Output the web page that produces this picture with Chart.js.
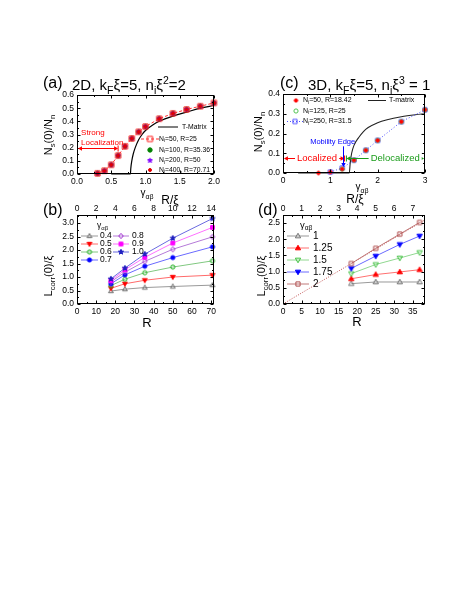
<!DOCTYPE html>
<html>
<head>
<meta charset="utf-8">
<script src="https://cdn.jsdelivr.net/npm/chart.js@4.4.1/dist/chart.umd.min.js"></script>
<style>
  body { margin: 0; background: #fff; width: 471px; height: 609px; position: relative; overflow: hidden;
         font-family: "Liberation Sans", Arial, sans-serif; }
  canvas { position: absolute; }
  .t { position: absolute; white-space: nowrap; line-height: 1; color: #000; }
  .t sub, .t sup { font-size: 70%; line-height: 0; }
  .c { transform: translate(-50%, -50%); }
  .l { transform: translate(0, -50%); }
  .r { transform: translate(-50%, -50%) rotate(-90deg); }
</style>
</head>
<body>
<canvas id="chA"></canvas>
<canvas id="chB"></canvas>
<canvas id="chC"></canvas>
<canvas id="chD"></canvas>

<div class="t l" style="left:43px;top:83px;font-size:16px">(a)</div>
<div class="t l" style="left:72px;top:84px;font-size:15px">2D, k<sub>F</sub>ξ=5, n<sub>i</sub>ξ<sup>2</sup>=2</div>
<div class="t l" style="left:280px;top:83px;font-size:16px">(c)</div>
<div class="t l" style="left:308px;top:84px;font-size:15px">3D, k<sub>F</sub>ξ=5, n<sub>i</sub>ξ<sup>3</sup> = 1</div>
<div class="t l" style="left:43px;top:210px;font-size:16px">(b)</div>
<div class="t l" style="left:258px;top:210px;font-size:16px">(d)</div>

<div class="t r" style="left:48px;top:135px;font-size:11px">N<sub>s</sub>(0)/N<sub>n</sub></div>
<div class="t c" style="left:147px;top:193px;font-size:10px">γ<sub>αβ</sub></div>
<div class="t r" style="left:258px;top:132px;font-size:11px">N<sub>s</sub>(0)/N<sub>n</sub></div>
<div class="t c" style="left:362px;top:187px;font-size:10px">γ<sub>αβ</sub></div>
<div class="t c" style="left:170px;top:200px;font-size:12px">R/ξ</div>
<div class="t r" style="left:48px;top:276px;font-size:11px">L<sub>corr</sub>(0)/ξ</div>
<div class="t c" style="left:147px;top:322px;font-size:13px">R</div>
<div class="t c" style="left:355px;top:199px;font-size:12px">R/ξ</div>
<div class="t r" style="left:261px;top:276px;font-size:11px">L<sub>corr</sub>(0)/ξ</div>
<div class="t c" style="left:357px;top:321px;font-size:13px">R</div>

<script>
  const FONT = '"Liberation Sans", Arial, sans-serif';

  // ---- (a) 2D superfluid fraction vs gamma
  const gammaA = [0.3, 0.4, 0.5, 0.6, 0.7, 0.8, 0.9, 1.0, 1.2, 1.4, 1.6, 1.8, 2.0];
  const nsA50  = [0.005, 0.025, 0.07, 0.14, 0.21, 0.27, 0.32, 0.36, 0.42, 0.46, 0.49, 0.515, 0.54];
  const nsA100 = [0.005, 0.025, 0.07, 0.14, 0.21, 0.27, 0.32, 0.36, 0.42, 0.46, 0.49, 0.515, 0.54];
  const nsA200 = [0.005, 0.025, 0.07, 0.14, 0.21, 0.27, 0.32, 0.36, 0.42, 0.46, 0.49, 0.515, 0.54];
  const nsA400 = [0.005, 0.025, 0.07, 0.14, 0.21, 0.27, 0.32, 0.36, 0.42, 0.46, 0.49, 0.515, 0.54];
  const tmatGammaA = [0.5, 0.78, 0.785, 0.8, 0.82, 0.85, 0.9, 0.95, 1.0, 1.1, 1.2, 1.4, 1.6, 1.8, 2.0];
  const tmatA      = [0, 0, 0.04, 0.1, 0.15, 0.2, 0.26, 0.3, 0.33, 0.37, 0.4, 0.44, 0.47, 0.5, 0.52];
  const ticksAx = [0, 0.5, 1.0, 1.5, 2.0];
  const ticksAy = [0, 0.1, 0.2, 0.3, 0.4, 0.5, 0.6];

  // ---- (b) 2D correlation length vs R
  const R2D = [17.68, 25, 35.36, 50, 70.71];
  const Lb04 = [0.48, 0.55, 0.61, 0.65, 0.70];
  const Lb05 = [0.58, 0.75, 0.88, 1.00, 1.07];
  const Lb06 = [0.68, 0.92, 1.16, 1.37, 1.60];
  const Lb07 = [0.75, 1.08, 1.40, 1.72, 2.12];
  const Lb08 = [0.82, 1.18, 1.58, 2.03, 2.49];
  const Lb09 = [0.87, 1.27, 1.73, 2.26, 2.84];
  const Lb10 = [0.93, 1.33, 1.85, 2.44, 3.17];
  const ticksBx = [0, 10, 20, 30, 40, 50, 60, 70];
  const ticksBtop = [0, 2, 4, 6, 8, 10, 12, 14];
  const ticksBy = [0, 0.5, 1.0, 1.5, 2.0, 2.5, 3.0];

  // ---- (c) 3D superfluid fraction vs gamma
  const gammaC50  = [0.75, 1.0, 1.25, 1.5, 1.75, 2.0, 2.5, 3.0];
  const nsC50     = [0.0, 0.005, 0.02, 0.065, 0.115, 0.165, 0.26, 0.32];
  const gammaC125 = [1.25, 1.5, 1.75, 2.0, 2.5, 3.0];
  const nsC125    = [0.02, 0.065, 0.115, 0.165, 0.26, 0.32];
  const gammaC250 = [1.0, 1.25, 1.5, 1.75, 2.0, 2.5, 3.0];
  const nsC250    = [0.005, 0.025, 0.065, 0.115, 0.165, 0.26, 0.32];
  const tmatGammaC = [0.32, 1.4, 1.42, 1.45, 1.5, 1.6, 1.7, 1.8, 2.0, 2.2, 2.5, 2.8, 3.0];
  const tmatC      = [0, 0, 0.05, 0.1, 0.14, 0.18, 0.21, 0.23, 0.255, 0.27, 0.285, 0.295, 0.3];
  const ticksCx = [0, 1, 2, 3];
  const ticksCy = [0, 0.1, 0.2, 0.3, 0.4];

  // ---- (d) 3D correlation length vs R
  const R3D = [18.42, 25, 31.5, 36.84];
  const Ld100 = [0.63, 0.68, 0.68, 0.68];
  const Ld125 = [0.78, 0.91, 0.99, 1.06];
  const Ld150 = [0.94, 1.22, 1.42, 1.59];
  const Ld175 = [1.10, 1.48, 1.84, 2.10];
  const Ld200 = [1.25, 1.72, 2.16, 2.52];
  const guideR = [0, 38.3];
  const guideL = [0, 2.6];
  const ticksDx = [0, 5, 10, 15, 20, 25, 30, 35];
  const ticksDtop = [0, 1, 2, 3, 4, 5, 6, 7];
  const ticksDy = [0, 0.5, 1.0, 1.5, 2.0, 2.5];

  const xy = (xs, ys) => xs.map((x, i) => ({ x, y: ys[i] }));

  // marker images, shared by plot points and legends
  function makeMarker(shape, color, filled, r) {
    const s = Math.ceil(2 * r + 5);
    const c = document.createElement('canvas');
    c.width = c.height = s;
    const g = c.getContext('2d');
    const x = s / 2, y = s / 2;
    g.beginPath();
    if (shape === 'square') g.rect(x - r, y - r, 2 * r, 2 * r);
    else if (shape === 'circle') g.arc(x, y, r, 0, Math.PI * 2);
    else if (shape === 'up' || shape === 'down') {
      const d = shape === 'up' ? 1 : -1;
      g.moveTo(x, y - d * r * 1.2);
      g.lineTo(x + r * 1.15, y + d * r * 0.8);
      g.lineTo(x - r * 1.15, y + d * r * 0.8);
      g.closePath();
    } else if (shape === 'diamond') {
      g.moveTo(x, y - r * 1.25); g.lineTo(x + r * 1.1, y); g.lineTo(x, y + r * 1.25); g.lineTo(x - r * 1.1, y);
      g.closePath();
    } else if (shape === 'star') {
      for (let i = 0; i < 10; i++) {
        const a = -Math.PI / 2 + i * Math.PI / 5;
        const rr = i % 2 ? r * 0.55 : r * 1.3;
        g.lineTo(x + rr * Math.cos(a), y + rr * Math.sin(a));
      }
      g.closePath();
    }
    g.lineWidth = 1;
    g.strokeStyle = color;
    g.fillStyle = color;
    if (filled) g.fill();
    g.stroke();
    return c;
  }

  const mk = {
    aN50:  makeMarker('square', '#ff2020', false, 2.6),
    aN100: makeMarker('circle', '#008000', true, 2.2),
    aN200: makeMarker('star', '#8000ff', true, 2.0),
    aN400: makeMarker('circle', '#e00000', true, 1.5),
    b04: makeMarker('up', '#707070', false, 2.1),
    b05: makeMarker('down', '#ff0000', true, 2.1),
    b06: makeMarker('circle', '#20b020', false, 2.1),
    b07: makeMarker('circle', '#0000ff', true, 2.1),
    b08: makeMarker('diamond', '#a030d0', false, 2.1),
    b09: makeMarker('square', '#ff00ff', true, 1.9),
    b10: makeMarker('star', '#2020c0', true, 2.1),
    cN50:  makeMarker('circle', '#ff0000', true, 1.7),
    cN125: makeMarker('circle', '#50c050', false, 2.1),
    cN250: makeMarker('square', '#5050ff', false, 2.1),
    d100: makeMarker('up', '#707070', false, 2.3),
    d125: makeMarker('up', '#ff0000', true, 2.3),
    d150: makeMarker('down', '#40c040', false, 2.3),
    d175: makeMarker('down', '#0000ff', true, 2.3),
    d200: makeMarker('square', '#b05050', false, 2.1)
  };

  function series(data, marker, line, dash) {
    return {
      data, pointStyle: marker, pointRadius: marker ? 3 : 0,
      showLine: !!line, borderColor: line || 'transparent', borderWidth: 1,
      borderDash: dash || [], clip: 5
    };
  }

  // parse "N_{i}=50" style strings into pieces
  function pieces(str) {
    const out = [];
    const re = /_\{([^}]*)\}|\^\{([^}]*)\}|([^_^]+)/g;
    let m;
    while ((m = re.exec(str))) {
      if (m[1] != null) out.push({ t: m[1], k: 'sub' });
      else if (m[2] != null) out.push({ t: m[2], k: 'sup' });
      else out.push({ t: m[3], k: '' });
    }
    return out;
  }

  function rich(ctx, str, x, y, size, color, align, bg) {
    const ps = pieces(str);
    const fontOf = p => `${p.k ? size * 0.7 : size}px ${FONT}`;
    let w = 0;
    ps.forEach(p => { ctx.font = fontOf(p); w += ctx.measureText(p.t).width; });
    let cx = align === 'center' ? x - w / 2 : x;
    if (bg) {
      ctx.fillStyle = bg;
      ctx.fillRect(cx - 2, y - size * 0.6, w + 4, size * 1.2);
    }
    ctx.fillStyle = color;
    ctx.textBaseline = 'middle';
    ctx.textAlign = 'left';
    ps.forEach(p => {
      ctx.font = fontOf(p);
      const dy = p.k === 'sub' ? size * 0.3 : p.k === 'sup' ? -size * 0.35 : 0;
      ctx.fillText(p.t, cx, y + dy);
      cx += ctx.measureText(p.t).width;
    });
    return w;
  }

  function head(ctx, x, y, dx, dy, color) {
    const len = 4, wid = 2.2;
    ctx.fillStyle = color;
    ctx.beginPath();
    ctx.moveTo(x, y);
    ctx.lineTo(x - dx * len - dy * wid, y - dy * len + dx * wid);
    ctx.lineTo(x - dx * len + dy * wid, y - dy * len - dx * wid);
    ctx.closePath();
    ctx.fill();
  }

  function hArrow(ctx, x1, x2, y, color, bar) {
    ctx.save();
    ctx.strokeStyle = color; ctx.lineWidth = 1;
    ctx.beginPath(); ctx.moveTo(x1 + 2, y); ctx.lineTo(x2 - 2, y); ctx.stroke();
    head(ctx, x1, y, -1, 0, color);
    head(ctx, x2, y, 1, 0, color);
    if (bar) { ctx.beginPath(); ctx.moveTo(bar, y - 3); ctx.lineTo(bar, y + 3); ctx.stroke(); }
    ctx.restore();
  }

  // legend rows in page coordinates
  function legend(ctx, ox, oy, rows, size) {
    rows.forEach(r => {
      const y = r.y - oy;
      if (r.line) {
        ctx.save();
        ctx.strokeStyle = r.line; ctx.lineWidth = 1;
        ctx.setLineDash(r.dash || []);
        ctx.beginPath(); ctx.moveTo(r.x1 - ox, y); ctx.lineTo(r.x2 - ox, y); ctx.stroke();
        ctx.restore();
      }
      if (r.marker) ctx.drawImage(r.marker, r.mx - ox - r.marker.width / 2, y - r.marker.height / 2);
      rich(ctx, r.text, r.tx - ox, y, size, r.color || '#000');
    });
  }

  // box frame with inward major/minor ticks on all four sides
  const frame = {
    id: 'frame',
    afterDraw(chart) {
      const { ctx, chartArea: a, scales } = chart;
      const L = Math.round(a.left) + 0.5, R = Math.round(a.right) - 0.5;
      const T = Math.round(a.top) + 0.5, B = Math.round(a.bottom) - 0.5;
      ctx.save();
      ctx.strokeStyle = '#000';
      ctx.lineWidth = 1;
      ctx.strokeRect(L, T, R - L, B - T);
      const marks = s => {
        const v = s.ticks.map(t => t.value);
        const out = v.map(p => ({ p: s.getPixelForValue(p), len: 3 }));
        const step = v[1] - v[0];
        for (let i = -1; i < v.length; i++) {
          const m = (i < 0 ? v[0] : v[i]) + (i < 0 ? -step / 2 : step / 2);
          if (m >= s.min && m <= s.max) out.push({ p: s.getPixelForValue(m), len: 1.5 });
        }
        return out;
      };
      ctx.beginPath();
      marks(scales.x).forEach(m => { const x = Math.round(m.p) + 0.5; ctx.moveTo(x, B); ctx.lineTo(x, B - m.len); });
      marks(scales.x2 || scales.x).forEach(m => { const x = Math.round(m.p) + 0.5; ctx.moveTo(x, T); ctx.lineTo(x, T + m.len); });
      marks(scales.y).forEach(m => {
        const y = Math.round(m.p) + 0.5;
        ctx.moveTo(L, y); ctx.lineTo(L + m.len, y);
        ctx.moveTo(R, y); ctx.lineTo(R - m.len, y);
      });
      ctx.stroke();
      ctx.restore();
    }
  };

  function axis(pos, a, size) {
    return {
      type: 'linear', position: pos, min: a.min, max: a.max,
      grid: { display: false, drawTicks: false },
      border: { display: false },
      ticks: {
        font: { family: FONT, size: 8.5 }, color: '#000',
        padding: pos === 'left' ? 3 : pos === 'top' ? 1 : 3, autoSkip: false, maxRotation: 0,
        callback: v => v.toFixed(a.dec)
      },
      afterBuildTicks: s => { s.ticks = a.ticks.map(v => ({ value: v })); },
      afterFit: s => {
        if (pos === 'left') s.width = size; else s.height = size;
        s.paddingLeft = s.paddingRight = s.paddingTop = s.paddingBottom = 0;
      }
    };
  }

  function makeChart(id, area, opt) {
    const top2 = !!opt.x2;
    const M = { l: 28, r: 8, t: top2 ? 13 : 6, b: 13 };
    const cv = document.getElementById(id);
    const W = area.r - area.l + M.l + M.r;
    const H = area.b - area.t + M.t + M.b;
    const ox = area.l - M.l, oy = area.t - M.t;
    cv.style.left = ox + 'px'; cv.style.top = oy + 'px';
    cv.width = W; cv.height = H;
    cv.style.width = W + 'px'; cv.style.height = H + 'px';
    const scales = { x: axis('bottom', opt.x, M.b), y: axis('left', opt.y, M.l) };
    if (top2) scales.x2 = axis('top', opt.x2, M.t);
    return new Chart(cv, {
      type: 'scatter',
      data: { datasets: opt.datasets },
      options: {
        responsive: false, animation: false, devicePixelRatio: 1,
        layout: { padding: { left: 0, right: M.r, top: top2 ? 0 : M.t, bottom: 0 } },
        plugins: { legend: { display: false }, tooltip: { enabled: false } },
        scales
      },
      plugins: [frame, { id: 'extra', afterDraw: c => opt.extra(c, ox, oy) }]
    });
  }

  // (a)
  makeChart('chA', { l: 77, t: 95, r: 214, b: 174 }, {
    x: { min: 0, max: 2, ticks: ticksAx, dec: 1 },
    y: { min: 0, max: 0.6, ticks: ticksAy, dec: 1 },
    datasets: [
      series(xy(gammaA, nsA400), mk.aN400),
      series(xy(gammaA, nsA50), mk.aN50, '#ff3030', [3, 2]),
      series(xy(gammaA, nsA200), mk.aN200),
      series(xy(gammaA, nsA100), mk.aN100),
      Object.assign(series(xy(tmatGammaA, tmatA), null, '#000'), { borderWidth: 1.2, cubicInterpolationMode: 'monotone' })
    ],
    extra(c, ox, oy) {
      const ctx = c.ctx, X = c.scales.x, Y = c.scales.y;
      const ay = Math.round(Y.getPixelForValue(0.2)) + 0.5;
      hArrow(ctx, X.getPixelForValue(0) + 1, X.getPixelForValue(0.6), ay, '#ff0000', X.getPixelForValue(0.6));
      rich(ctx, 'Strong', X.getPixelForValue(0.06), Y.getPixelForValue(0.31), 8, '#ff0000');
      rich(ctx, 'Localization', X.getPixelForValue(0.06), Y.getPixelForValue(0.235), 8, '#ff0000');
      legend(ctx, ox, oy, [
        { y: 127, line: '#000', x1: 158, x2: 178, tx: 182, text: 'T-Matrix' },
        { y: 139, line: '#ff3030', dash: [3, 2], x1: 141, x2: 159, mx: 150, marker: mk.aN50, tx: 159, text: 'N_{i}=50, R=25' },
        { y: 150, mx: 150, marker: mk.aN100, tx: 159, text: 'N_{i}=100, R=35.36' },
        { y: 160.5, mx: 150, marker: mk.aN200, tx: 159, text: 'N_{i}=200, R=50' },
        { y: 170, mx: 150, marker: mk.aN400, tx: 159, text: 'N_{i}=400, R=70.71' }
      ], 6.8);
    }
  });

  // (b)
  makeChart('chB', { l: 77, t: 215, r: 214, b: 304 }, {
    x: { min: 0, max: 71.5, ticks: ticksBx, dec: 0 },
    x2: { min: 0, max: 14.3, ticks: ticksBtop, dec: 0 },
    y: { min: 0, max: 3.3, ticks: ticksBy, dec: 1 },
    datasets: [
      series(xy(R2D, Lb10), mk.b10, '#6a6ae0'),
      series(xy(R2D, Lb09), mk.b09, '#ff70ff'),
      series(xy(R2D, Lb08), mk.b08, '#b57ad8'),
      series(xy(R2D, Lb07), mk.b07, '#6a6aff'),
      series(xy(R2D, Lb06), mk.b06, '#80c880'),
      series(xy(R2D, Lb05), mk.b05, '#ff6a6a'),
      series(xy(R2D, Lb04), mk.b04, '#999999')
    ],
    extra(c, ox, oy) {
      const ctx = c.ctx;
      rich(ctx, 'γ_{αβ}', 97 - ox, 226 - oy, 8.5, '#000');
      const col1 = { x1: 81, x2: 98, mx: 89.5, tx: 100 };
      const col2 = { x1: 113, x2: 129, mx: 121, tx: 132 };
      legend(ctx, ox, oy, [
        Object.assign({ y: 236, line: '#999999', marker: mk.b04, text: '0.4' }, col1),
        Object.assign({ y: 244, line: '#ff6a6a', marker: mk.b05, text: '0.5' }, col1),
        Object.assign({ y: 252, line: '#80c880', marker: mk.b06, text: '0.6' }, col1),
        Object.assign({ y: 260, line: '#6a6aff', marker: mk.b07, text: '0.7' }, col1),
        Object.assign({ y: 236, line: '#b57ad8', marker: mk.b08, text: '0.8' }, col2),
        Object.assign({ y: 244, line: '#ff70ff', marker: mk.b09, text: '0.9' }, col2),
        Object.assign({ y: 252, line: '#6a6ae0', marker: mk.b10, text: '1.0' }, col2)
      ], 8.5);
    }
  });

  // (c)
  makeChart('chC', { l: 283, t: 94, r: 425, b: 173 }, {
    x: { min: 0, max: 3, ticks: ticksCx, dec: 0 },
    y: { min: 0, max: 0.4, ticks: ticksCy, dec: 1 },
    datasets: [
      series(xy(gammaC50, nsC50), mk.cN50),
      series(xy(gammaC125, nsC125), mk.cN125),
      series(xy(gammaC250, nsC250), mk.cN250, '#5050ff', [1, 2]),
      Object.assign(series(xy(tmatGammaC, tmatC), null, '#222'), { borderWidth: 1.1, cubicInterpolationMode: 'monotone' })
    ],
    extra(c, ox, oy) {
      const ctx = c.ctx, X = c.scales.x, Y = c.scales.y;
      const ay = Math.round(Y.getPixelForValue(0.075)) + 0.5;
      hArrow(ctx, X.getPixelForValue(0.02), X.getPixelForValue(1.3), ay, '#ff0000', X.getPixelForValue(1.3));
      rich(ctx, 'Localized', X.getPixelForValue(0.72), ay, 9.5, '#ff0000', 'center', '#fff');
      hArrow(ctx, X.getPixelForValue(1.34), X.getPixelForValue(2.98), ay, '#1a9c1a', X.getPixelForValue(1.34));
      rich(ctx, 'Delocalized', X.getPixelForValue(2.37), ay, 9.5, '#1a9c1a', 'center', '#fff');
      rich(ctx, 'Mobility Edge', X.getPixelForValue(1.05), Y.getPixelForValue(0.155), 7.5, '#0000ff', 'center');
      const mx = Math.round(X.getPixelForValue(1.26)) + 0.5;
      ctx.save();
      ctx.strokeStyle = '#0000ff'; ctx.lineWidth = 1;
      ctx.beginPath(); ctx.moveTo(mx, Y.getPixelForValue(0.135)); ctx.lineTo(mx, Y.getPixelForValue(0.03) - 2); ctx.stroke();
      head(ctx, mx, Y.getPixelForValue(0.03), 0, 1, '#0000ff');
      ctx.restore();
      legend(ctx, ox, oy, [
        { y: 100.5, mx: 296, marker: mk.cN50, tx: 303, text: 'N_{i}=50, R=18.42' },
        { y: 111, mx: 296, marker: mk.cN125, tx: 303, text: 'N_{i}=125, R=25' },
        { y: 121.5, line: '#5050ff', dash: [1, 2], x1: 287, x2: 303, mx: 295, marker: mk.cN250, tx: 303, text: 'N_{i}=250, R=31.5' },
        { y: 100.5, line: '#222', x1: 368, x2: 386, tx: 389, text: 'T-matrix' }
      ], 7);
    }
  });

  // (d)
  makeChart('chD', { l: 283, t: 215, r: 425, b: 304 }, {
    x: { min: 0, max: 38.3, ticks: ticksDx, dec: 0 },
    x2: { min: 0, max: 7.66, ticks: ticksDtop, dec: 0 },
    y: { min: 0, max: 2.75, ticks: ticksDy, dec: 1 },
    datasets: [
      series(xy(R3D, Ld200), mk.d200, '#c07878'),
      series(xy(R3D, Ld175), mk.d175, '#6a6aff'),
      series(xy(R3D, Ld150), mk.d150, '#90d890'),
      series(xy(R3D, Ld125), mk.d125, '#ff7070'),
      series(xy(R3D, Ld100), mk.d100, '#999999'),
      series(xy(guideR, guideL), null, '#c05050', [1, 1.5])
    ],
    extra(c, ox, oy) {
      const ctx = c.ctx;
      rich(ctx, 'γ_{αβ}', 300 - ox, 225 - oy, 9.5, '#000');
      const col = { x1: 287, x2: 309, mx: 298, tx: 313 };
      legend(ctx, ox, oy, [
        Object.assign({ y: 236, line: '#999999', marker: mk.d100, text: '1' }, col),
        Object.assign({ y: 248, line: '#ff7070', marker: mk.d125, text: '1.25' }, col),
        Object.assign({ y: 260, line: '#90d890', marker: mk.d150, text: '1.5' }, col),
        Object.assign({ y: 272, line: '#6a6aff', marker: mk.d175, text: '1.75' }, col),
        Object.assign({ y: 284, line: '#c07878', marker: mk.d200, text: '2' }, col)
      ], 10);
    }
  });
</script>
</body>
</html>
